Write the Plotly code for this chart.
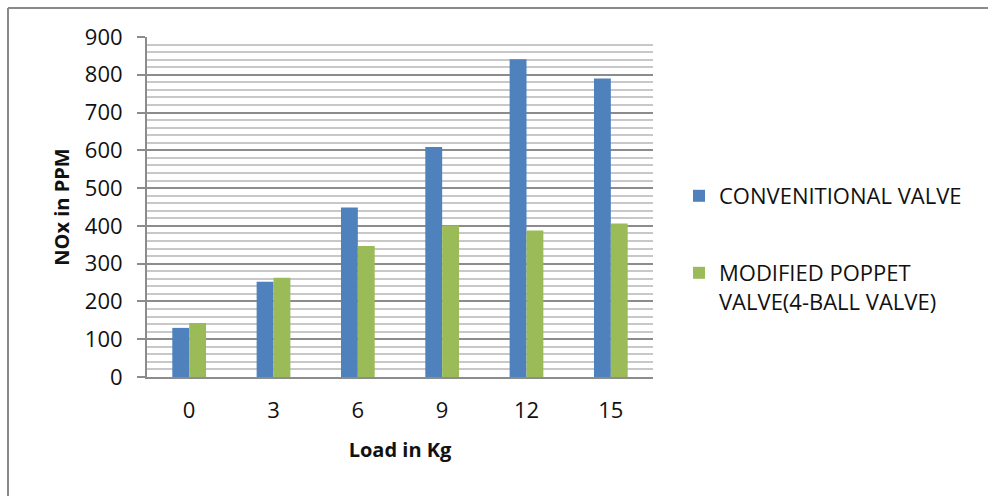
import plotly.graph_objects as go

# NOx emission vs engine load for the two valve designs
loads = ["0", "3", "6", "9", "12", "15"]
conventional = [130, 252, 449, 609, 841, 790]
modified = [143, 263, 347, 401, 388, 406]

series_names = ["CONVENITIONAL VALVE", "MODIFIED POPPET<br>VALVE(4-BALL VALVE)"]
y_ticks = [0, 100, 200, 300, 400, 500, 600, 700, 800, 900]

BLUE = "#4F81BD"
GREEN = "#9BBB59"
FONT = "Open Sans"
TEXT = "#111111"

fig = go.Figure()
fig.add_trace(go.Bar(x=loads, y=conventional, name=series_names[0], showlegend=True,
                     marker=dict(color=BLUE, line=dict(width=0)), legend="legend"))
fig.add_trace(go.Bar(x=loads, y=modified, name=series_names[1], showlegend=True,
                     marker=dict(color=GREEN, line=dict(width=0)), legend="legend2"))

# plot area: x 147..653 px, y 37..377 px
L, R, T, B = 147, 653, 37, 377
W, H = 988, 496

def px_x(p):
    return (p - L) / (R - L)

def px_y(p):
    return (B - p) / (B - T)

legend_style = dict(font=dict(family=FONT, size=22, color=TEXT),
                    bgcolor="rgba(0,0,0,0)", xanchor="left", yanchor="top",
                    valign="top", itemclick=False, visible=True)

fig.update_layout(
    width=W, height=H,
    margin=dict(l=L, r=W - R, t=T, b=H - B),
    paper_bgcolor="white", plot_bgcolor="white",
    showlegend=True,
    barmode="group", bargap=0.6, bargroupgap=0,
    font=dict(family=FONT, color=TEXT),
    legend=dict(x=px_x(679), y=px_y(175), **legend_style),
    legend2=dict(x=px_x(679), y=px_y(252), **legend_style),
    xaxis=dict(
        type="category",
        showline=True, linecolor="#8c8c8c", linewidth=2,
        ticks="", tickfont=dict(family=FONT, size=22, color=TEXT),
        ticklabelstandoff=13,
        title=dict(text="<b>Load in Kg</b>", font=dict(family=FONT, size=20, color=TEXT),
                   standoff=20),
    ),
    yaxis=dict(
        range=[0, 900], tickvals=y_ticks,
        showline=True, linecolor="#8c8c8c", linewidth=2,
        ticks="outside", ticklen=8, tickcolor="#8c8c8c", tickwidth=2,
        tickfont=dict(family=FONT, size=22, color=TEXT),
        ticklabelstandoff=10,
        showgrid=True, gridcolor="#8c8c8c", gridwidth=2,
        minor=dict(dtick=20, showgrid=True, gridcolor="#c8c8c8", gridwidth=2),
        zeroline=False,
        title=dict(text="<b>NOx in PPM</b>", font=dict(family=FONT, size=20, color=TEXT),
                   standoff=10),
    ),
    shapes=[
        dict(type="line", xref="paper", yref="paper",
             x0=px_x(8), x1=px_x(W + 5), y0=px_y(8), y1=px_y(8),
             line=dict(color="#8a8a8a", width=2)),
        dict(type="line", xref="paper", yref="paper",
             x0=px_x(8), x1=px_x(8), y0=px_y(8), y1=px_y(H + 5),
             line=dict(color="#8a8a8a", width=2)),
    ],
)

fig.write_html("out.html")
